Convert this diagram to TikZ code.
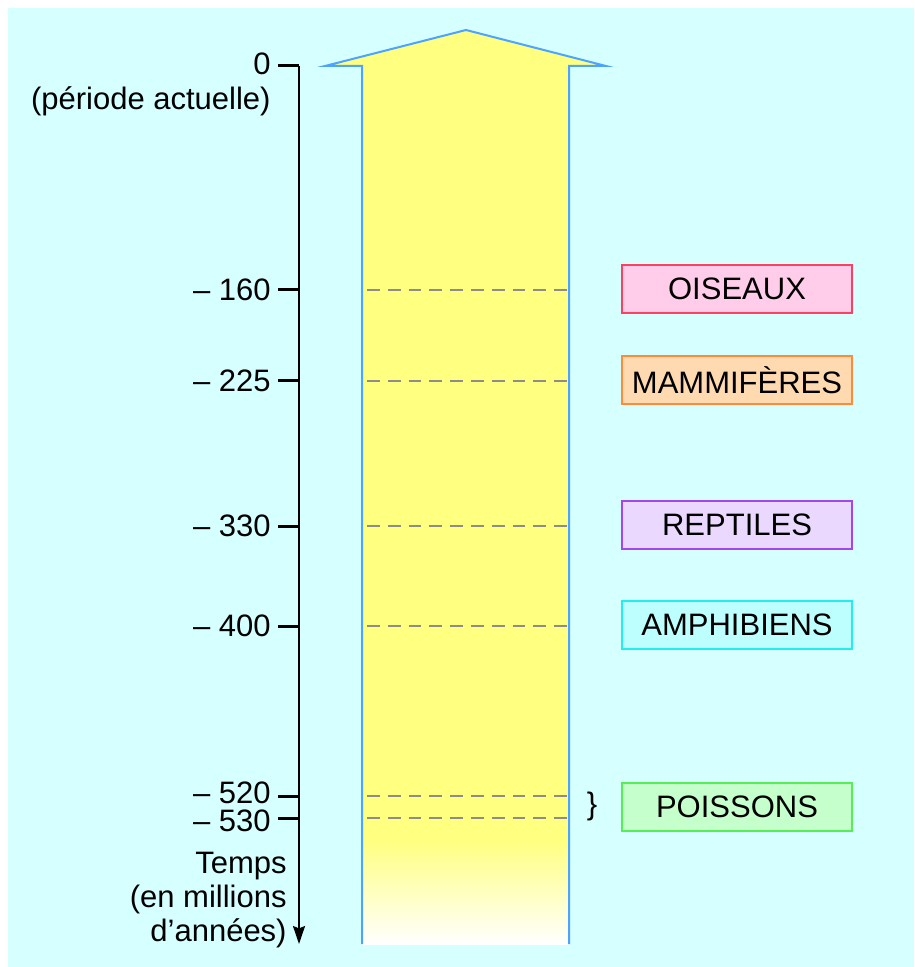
\documentclass[tikz,border=0pt]{standalone}
\usepackage{fontspec}
\setmainfont{Liberation Sans}
\usetikzlibrary{arrows.meta}
\definecolor{bgcyan}{HTML}{D6FFFF}
\definecolor{arrowyellow}{HTML}{FFFF80}
\definecolor{arrowblue}{HTML}{4DA3FF}
\definecolor{birdfill}{HTML}{FFCCEA}
\definecolor{birdline}{HTML}{FF3F5F}
\definecolor{mamfill}{HTML}{FFD9B0}
\definecolor{mamline}{HTML}{FF8A3A}
\definecolor{repfill}{HTML}{EAD8FF}
\definecolor{repline}{HTML}{A545F0}
\definecolor{ampfill}{HTML}{BDFFFF}
\definecolor{ampline}{HTML}{22EEEE}
\definecolor{fishfill}{HTML}{C4FFCC}
\definecolor{fishline}{HTML}{55EE55}
\begin{document}
\begin{tikzpicture}[x=0.5pt, y=-0.5pt,
  every node/.style={font=\fontsize{15.5}{17}\selectfont, inner sep=0pt},
  tickmark/.style={line width=1.5pt, black},
  ticklabel/.style={anchor=east},
  era/.style={line width=0.9pt, gray!90, dash pattern=on 6.4pt off 4pt},
  group/.style={draw, line width=1pt, minimum width=115pt, minimum height=24pt}]
  \useasboundingbox (0,0) rectangle (914,967);
  \fill[bgcyan] (8,8) rectangle (914,967);
  % big time arrow
  \fill[arrowyellow] (362,944) -- (362,66) -- (325,66) -- (466,30) -- (606,66) -- (569,66) -- (569,944) -- cycle;
  \shade[top color=arrowyellow, bottom color=white] (362,840) rectangle (569,944);
  \draw[arrowblue, line width=1pt] (362,944) -- (362,66) -- (325,66) -- (466,30) -- (606,66) -- (569,66) -- (569,944);
  % time axis
  \coordinate (k0) at (299,66);
  \coordinate (kend) at (299,944);
  \draw[line width=1pt, -{Stealth[length=9pt,width=6pt,inset=1.2pt]}] (k0) -- (kend);
  \node[ticklabel] (l0) at (271,64) {0};
  \node[anchor=east] (now) at (271,101) {(période actuelle)};
  \draw[tickmark] ([xshift=-10.5pt]k0) -- (k0);
  \coordinate (k160) at (299,290);
  \coordinate (k225) at (299,381);
  \coordinate (k330) at (299,526);
  \coordinate (k400) at (299,626);
  \coordinate (k520) at (299,796);
  \coordinate (k530) at (299,818);
  \node[ticklabel] (l160) at (271,290) {– 160};
  \node[ticklabel] (l225) at (271,381) {– 225};
  \node[ticklabel] (l330) at (271,526) {– 330};
  \node[ticklabel] (l400) at (271,626) {– 400};
  \node[ticklabel] (l520) at (271,793) {– 520};
  \node[ticklabel] (l530) at (271,821) {– 530};
  \foreach \k in {k160,k225,k330,k400,k520,k530}
    \draw[tickmark] ([xshift=-10.5pt]\k) -- (\k);
  \node[anchor=east, align=right] (unit) at (287,900) {Temps\\(en millions\\d’années)};
  % dashed era lines
  \foreach \y in {290,381,526,626,796,818}
    \draw[era] (367,\y) -- (567,\y);
  \node (brace) at (592,806) {\}};
  % animal groups
  \node[group, draw=birdline, fill=birdfill] (oiseaux) at (737,289) {OISEAUX};
  \node[group, draw=mamline, fill=mamfill] (mammiferes) at (737,380) {MAMMIFÈRES};
  \node[group, draw=repline, fill=repfill] (reptiles) at (737,525) {REPTILES};
  \node[group, draw=ampline, fill=ampfill] (amphibiens) at (737,625) {AMPHIBIENS};
  \node[group, draw=fishline, fill=fishfill] (poissons) at (737,807) {POISSONS};
\end{tikzpicture}
\end{document}
